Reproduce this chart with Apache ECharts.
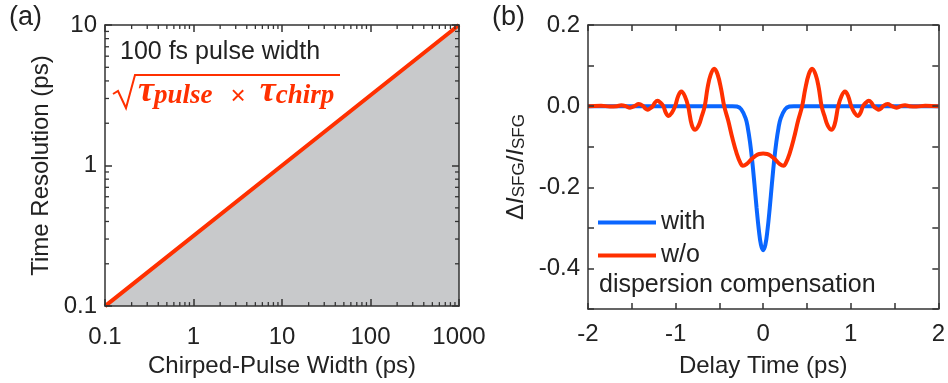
<!DOCTYPE html>
<html>
<head>
<meta charset="utf-8">
<script src="https://cdn.jsdelivr.net/npm/echarts@6/dist/echarts.min.js"></script>
<style>
  html, body { margin: 0; padding: 0; background: #fff; }
  #chart { width: 948px; height: 383px; }
</style>
</head>
<body>
<div id="chart"></div>
<script>
// (a) chirped-pulse width vs time resolution (log-log)
const chirpWidth = [0.1, 10, 1000];
const timeRes = [0.1, 1, 10];
const leftXTicks = [0.1, 1, 10, 100, 1000];
const leftYTicks = [0.1, 1, 10];
const leftXMinor = [0.2, 0.3, 0.4, 0.5, 0.6, 0.7, 0.8, 0.9, 2, 3, 4, 5, 6, 7, 8, 9,
  20, 30, 40, 50, 60, 70, 80, 90, 200, 300, 400, 500, 600, 700, 800, 900];
const leftYMinor = [0.2, 0.3, 0.4, 0.5, 0.6, 0.7, 0.8, 0.9, 2, 3, 4, 5, 6, 7, 8, 9];

// (b) SFG signal vs delay time
const withTime = [-2, -1, -0.5, -0.4, -0.35, -0.3, -0.25, -0.2, -0.175, -0.15, -0.125, -0.1, -0.075, -0.05, -0.025,
  0, 0.025, 0.05, 0.075, 0.1, 0.125, 0.15, 0.175, 0.2, 0.25, 0.3, 0.35, 0.4, 0.5, 1, 2];
const withValue = [0, 0, 0, 0, 0, -0.001, -0.008, -0.03, -0.054, -0.089, -0.135, -0.191, -0.251, -0.304, -0.342,
  -0.355, -0.342, -0.304, -0.251, -0.191, -0.135, -0.089, -0.054, -0.03, -0.008, -0.001, 0, 0, 0, 0, 0];

const woTime = [-2, -1.85, -1.75, -1.67, -1.62, -1.57, -1.52, -1.47, -1.42, -1.37, -1.345, -1.32, -1.295, -1.26,
  -1.235, -1.205, -1.175, -1.14, -1.11, -1.08, -1.045, -1.005, -0.97, -0.934, -0.895, -0.857, -0.815, -0.776,
  -0.735, -0.7, -0.667, -0.635, -0.6, -0.558, -0.52, -0.48, -0.445, -0.4, -0.35, -0.3, -0.26, -0.232, -0.19,
  -0.14, -0.09, -0.045, 0,
  0.045, 0.09, 0.14, 0.19, 0.232, 0.26, 0.3, 0.35, 0.4, 0.445, 0.48, 0.52, 0.558, 0.6, 0.635, 0.667, 0.7,
  0.735, 0.776, 0.815, 0.857, 0.895, 0.934, 0.97, 1.005, 1.045, 1.08, 1.11, 1.14, 1.175, 1.205, 1.235,
  1.26, 1.295, 1.32, 1.345, 1.37, 1.42, 1.47, 1.52, 1.57, 1.62, 1.67, 1.75, 1.85, 2];
const woValue = [0, 0.001, -0.001, 0, 0.002, 0, -0.004, 0, 0.005, 0, -0.006, -0.009, -0.006, 0,
  0.009, 0.013, 0.009, 0, -0.017, -0.024, -0.017, 0, 0.025, 0.036, 0.025, 0, -0.046, -0.058,
  -0.047, -0.024, 0, 0.045, 0.077, 0.092, 0.078, 0.042, 0, -0.035, -0.08, -0.118, -0.14, -0.147, -0.143,
  -0.132, -0.123, -0.118, -0.117,
  -0.118, -0.123, -0.132, -0.143, -0.147, -0.14, -0.118, -0.08, -0.035, 0, 0.042, 0.078, 0.092, 0.077, 0.045, 0, -0.024,
  -0.047, -0.058, -0.046, 0, 0.025, 0.036, 0.025, 0, -0.017, -0.024, -0.017, 0, 0.009, 0.013, 0.009,
  0, -0.006, -0.009, -0.006, 0, 0.005, 0, -0.004, 0, 0.002, 0, -0.001, 0.001, 0];
const rightXTicks = [-2, -1, 0, 1, 2];
const rightYLabels = [-0.4, -0.2, 0.0, 0.2];
const rightYRange = [-0.5, 0.2];

const RED = '#ff3000';
const BLUE = '#0a66ff';
const INK = '#222';
const FONT = '"Liberation Sans", Arial, sans-serif';

const zip = (a, b) => a.map((v, i) => [v, b[i]]);

const axisLine = { show: true, onZero: false, lineStyle: { color: '#333', width: 1.5 } };
const tickStyle = { color: '#333', width: 1.5 };
const labelStyle = { fontSize: 24, color: INK, fontFamily: FONT };
const nameStyle = { fontSize: 24, color: INK, fontFamily: FONT };
const majorTick = len => ({ show: true, inside: true, length: len, lineStyle: tickStyle });

function logLabel(v) {
  return String(+(+v).toPrecision(4));
}

// short inside ticks at 2..9 of every decade, on both sides of the box
function minorTicks(data, isX) {
  return {
    type: 'custom',
    xAxisIndex: 0,
    yAxisIndex: 0,
    z: 10,
    silent: true,
    clip: false,
    data: data.map(v => isX ? [v, leftYTicks[0]] : [leftXTicks[0], v]),
    renderItem: function (params, api) {
      const v = api.value(isX ? 0 : 1);
      const len = 4;
      const style = { stroke: '#333', lineWidth: 1.3 };
      if (isX) {
        const b = api.coord([v, leftYTicks[0]]);
        const t = api.coord([v, leftYTicks[leftYTicks.length - 1]]);
        return { type: 'group', children: [
          { type: 'line', shape: { x1: b[0], y1: b[1], x2: b[0], y2: b[1] - len }, style: style },
          { type: 'line', shape: { x1: t[0], y1: t[1], x2: t[0], y2: t[1] + len }, style: style }
        ] };
      }
      const l = api.coord([leftXTicks[0], v]);
      const r = api.coord([leftXTicks[leftXTicks.length - 1], v]);
      return { type: 'group', children: [
        { type: 'line', shape: { x1: l[0], y1: l[1], x2: l[0] + len, y2: l[1] }, style: style },
        { type: 'line', shape: { x1: r[0], y1: r[1], x2: r[0] - len, y2: r[1] }, style: style }
      ] };
    }
  };
}

const chart = echarts.init(document.getElementById('chart'));

const option = {
  animation: false,
  backgroundColor: '#fff',
  textStyle: { fontFamily: FONT },
  grid: [
    { left: 105, top: 25, width: 354, height: 286 },
    { left: 588, top: 25, width: 353, height: 286 }
  ],
  xAxis: [
    {
      gridIndex: 0, type: 'log', logBase: 10,
      min: leftXTicks[0], max: leftXTicks[leftXTicks.length - 1],
      z: 10, axisLine: axisLine,
      axisTick: majorTick(7),
      axisLabel: Object.assign({ margin: 19, formatter: logLabel }, labelStyle),
      splitLine: { show: false },
      name: 'Chirped-Pulse Width (ps)', nameLocation: 'middle', nameGap: 46,
      nameTextStyle: nameStyle
    },
    {
      gridIndex: 0, type: 'log', logBase: 10, position: 'top',
      min: leftXTicks[0], max: leftXTicks[leftXTicks.length - 1],
      z: 10, axisLine: axisLine,
      axisTick: majorTick(7),
      axisLabel: { show: false }, splitLine: { show: false }
    },
    {
      gridIndex: 1, type: 'value',
      min: rightXTicks[0], max: rightXTicks[rightXTicks.length - 1], interval: 1,
      z: 10, axisLine: axisLine,
      axisTick: majorTick(6),
      minorTick: { show: true, splitNumber: 2, length: 6, lineStyle: tickStyle },
      axisLabel: Object.assign({ margin: 13 }, labelStyle),
      splitLine: { show: false },
      name: 'Delay Time (ps)', nameLocation: 'middle', nameGap: 45,
      nameTextStyle: nameStyle
    },
    {
      gridIndex: 1, type: 'value', position: 'top',
      min: rightXTicks[0], max: rightXTicks[rightXTicks.length - 1], interval: 1,
      z: 10, axisLine: axisLine,
      axisTick: majorTick(6),
      minorTick: { show: true, splitNumber: 2, length: 6, lineStyle: tickStyle },
      axisLabel: { show: false }, splitLine: { show: false }
    }
  ],
  yAxis: [
    {
      gridIndex: 0, type: 'log', logBase: 10,
      min: leftYTicks[0], max: leftYTicks[leftYTicks.length - 1],
      z: 10, axisLine: axisLine,
      axisTick: majorTick(7),
      axisLabel: Object.assign({ margin: 8, formatter: logLabel }, labelStyle),
      splitLine: { show: false },
      name: 'Time Resolution (ps)', nameLocation: 'middle', nameGap: 52,
      nameTextStyle: nameStyle
    },
    {
      gridIndex: 0, type: 'log', logBase: 10, position: 'right',
      min: leftYTicks[0], max: leftYTicks[leftYTicks.length - 1],
      z: 10, axisLine: axisLine,
      axisTick: majorTick(7),
      axisLabel: { show: false }, splitLine: { show: false }
    },
    {
      gridIndex: 1, type: 'value',
      min: rightYRange[0], max: rightYRange[1], interval: 0.1,
      z: 10, axisLine: axisLine,
      axisTick: majorTick(6),
      axisLabel: Object.assign({
        margin: 8,
        formatter: function (v) {
          const hit = rightYLabels.find(t => Math.abs(t - v) < 1e-6);
          return hit === undefined ? '' : hit.toFixed(1);
        }
      }, labelStyle),
      splitLine: { show: false },
      name: '{d|Δ}{i|I}{s|SFG}{n|/}{i|I}{s|SFG}', nameLocation: 'middle', nameGap: 60,
      nameTextStyle: Object.assign({
        rich: {
          d: { fontSize: 24, color: INK, lineHeight: 30, verticalAlign: 'bottom' },
          n: { fontSize: 24, color: INK, lineHeight: 30, verticalAlign: 'bottom' },
          i: { fontSize: 24, color: INK, fontStyle: 'italic', lineHeight: 30, verticalAlign: 'bottom' },
          s: { fontSize: 17, color: INK, lineHeight: 17, verticalAlign: 'bottom' }
        }
      }, nameStyle)
    },
    {
      gridIndex: 1, type: 'value', position: 'right',
      min: rightYRange[0], max: rightYRange[1], interval: 0.1,
      z: 10, axisLine: axisLine,
      axisTick: majorTick(6),
      axisLabel: { show: false }, splitLine: { show: false }
    }
  ],
  legend: {
    data: ['with', 'w/o'],
    orient: 'vertical',
    left: 598, top: 210,
    padding: 0, itemGap: 8,
    itemWidth: 58, itemHeight: 4, icon: 'rect',
    textStyle: { fontSize: 25, color: INK, fontFamily: FONT }
  },
  series: [
    {
      type: 'line',
      xAxisIndex: 0, yAxisIndex: 0,
      data: zip(chirpWidth, timeRes),
      symbol: 'none',
      lineStyle: { color: RED, width: 4 },
      itemStyle: { color: RED },
      areaStyle: { color: '#c8c9cb', opacity: 1, origin: 'start' }
    },
    minorTicks(leftXMinor, true),
    minorTicks(leftYMinor, false),
    {
      name: 'with', type: 'line',
      xAxisIndex: 2, yAxisIndex: 2,
      data: zip(withTime, withValue),
      symbol: 'none', smooth: 0.4,
      lineStyle: { color: BLUE, width: 4 },
      itemStyle: { color: BLUE }
    },
    {
      name: 'w/o', type: 'line',
      xAxisIndex: 2, yAxisIndex: 2,
      data: zip(woTime, woValue),
      symbol: 'none', smooth: 0.4,
      lineStyle: { color: RED, width: 4 },
      itemStyle: { color: RED }
    }
  ],
  graphic: [
    { type: 'text', left: 9, top: 4, style: { text: '(a)', font: '27px ' + FONT, fill: INK } },
    { type: 'text', left: 492, top: 4, style: { text: '(b)', font: '27px ' + FONT, fill: INK } },
    { type: 'text', left: 120, top: 40, style: { text: '100 fs pulse width', font: '25px ' + FONT, fill: INK } },
    { type: 'text', left: 599, top: 273, style: { text: 'dispersion compensation', font: '25px ' + FONT, fill: INK } },
    {
      type: 'polyline', z: 20,
      shape: { points: [[113, 94], [118, 91], [126, 108], [135, 75], [340, 75]] },
      style: { stroke: RED, lineWidth: 2, fill: null }
    },
    {
      type: 'text', left: 138, top: 74, z: 20,
      style: {
        text: '{t|τ}{s|pulse}{x|×}{t|τ}{s|chirp}',
        rich: {
          t: { fontFamily: '"Liberation Serif", serif', fontStyle: 'italic', fontWeight: 'bold', fontSize: 36, fill: RED, verticalAlign: 'bottom', lineHeight: 34 },
          s: { fontFamily: '"Liberation Serif", serif', fontStyle: 'italic', fontWeight: 'bold', fontSize: 27, fill: RED, verticalAlign: 'bottom', lineHeight: 19 },
          x: { fontFamily: FONT, fontSize: 26, fill: RED, verticalAlign: 'bottom', lineHeight: 26, padding: [0, 14, 0, 18] }
        }
      }
    }
  ]
};

chart.setOption(option);
</script>
</body>
</html>
